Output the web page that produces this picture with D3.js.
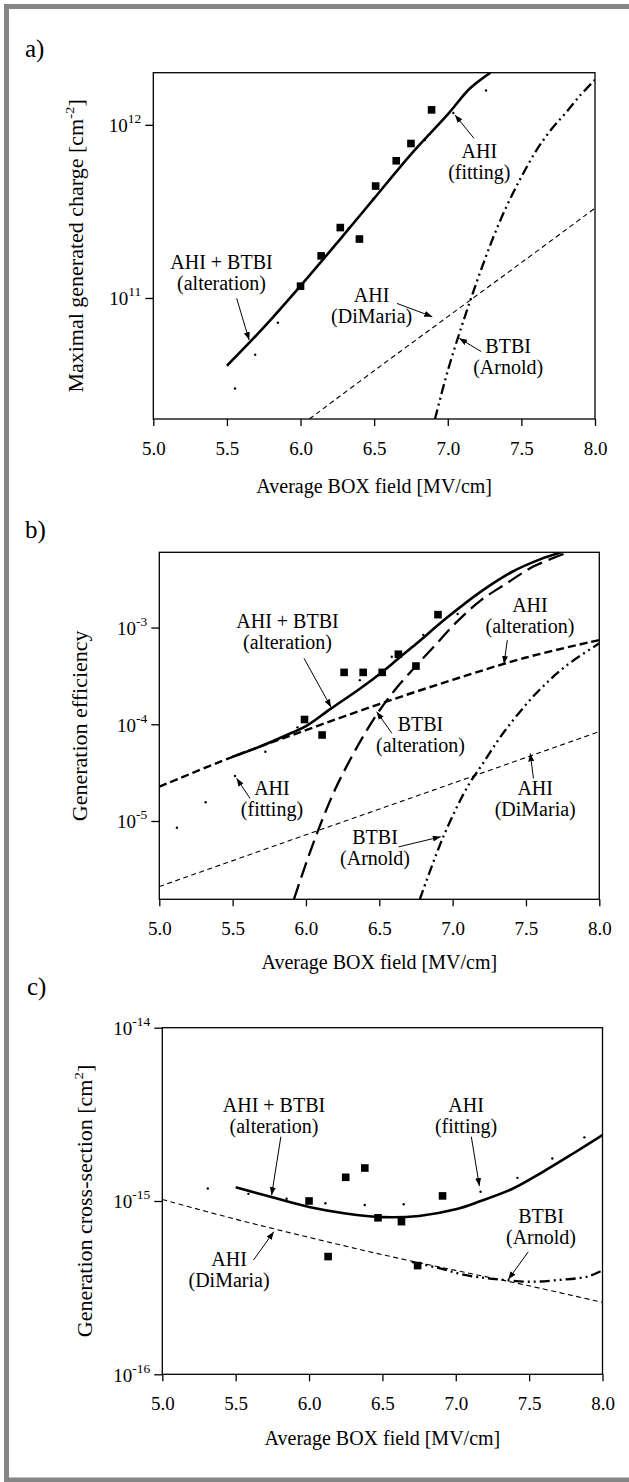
<!DOCTYPE html>
<html>
<head>
<meta charset="utf-8">
<script src="https://cdn.jsdelivr.net/npm/d3@7"></script>
<style>
  body { margin: 0; background: #fff; }
  svg, svg text { font-family: "Liberation Serif", "Times New Roman", Times, "DejaVu Serif", serif; }
</style>
</head>
<body>
<div id="graf"></div>
<script>
// I. Datos
const xTicks = [5.0, 5.5, 6.0, 6.5, 7.0, 7.5, 8.0]

// a) carga máxima generada [cm^-2]
const aTicksY = [1e11, 1e12]
const aSquareX = [6.00, 6.14, 6.27, 6.40, 6.51, 6.65, 6.75, 6.89]
const aSquareY = [1.17e11, 1.75e11, 2.55e11, 2.19e11, 4.43e11, 6.2e11, 7.8e11, 1.22e12]
const aAltX = [5.5, 5.75, 6.0, 6.25, 6.5, 6.75, 7.0, 7.15, 7.29]
const aAltY = [4.06e10, 6.76e10, 1.175e11, 2.09e11, 3.76e11, 6.76e11, 1.15e12, 1.62e12, 2.0e12]
const aFitX = [5.555, 5.692, 5.846, 6.327, 6.494, 6.845, 7.038, 7.26]
const aFitY = [3.0e10, 4.7e10, 7.2e10, 2.53e11, 3.73e11, 8.17e11, 1.17e12, 1.58e12]
const aDimX = [6.06, 6.5, 7.0, 7.5, 8.0]
const aDimY = [2.0e10, 3.8e10, 7.8e10, 1.6e11, 3.3e11]
const aArnX = [6.913, 7.0, 7.1, 7.2, 7.3, 7.4, 7.5, 7.6, 7.7, 7.8, 7.9, 8.0]
const aArnY = [2.0e10, 3.8e10, 7.1e10, 1.26e11, 2.14e11, 3.39e11, 5.0e11, 7.08e11, 9.33e11, 1.17e12, 1.48e12, 1.82e12]

// b) eficiencia de generación
const bTicksY = [1e-5, 1e-4, 1e-3]
const bSquareX = [5.99, 6.11, 6.26, 6.39, 6.52, 6.63, 6.75, 6.90]
const bSquareY = [1.12e-4, 7.75e-5, 3.44e-4, 3.44e-4, 3.44e-4, 5.3e-4, 4.0e-4, 1.36e-3]
const bAltX = [5.5, 5.7, 5.9, 6.0, 6.17, 6.37, 6.52, 6.63, 6.75, 6.96, 7.19, 7.41, 7.6, 7.74]
const bAltY = [4.61e-5, 6.0e-5, 8.13e-5, 9.55e-5, 1.45e-4, 2.34e-4, 3.47e-4, 4.79e-4, 6.76e-4, 1.26e-3, 2.34e-3, 3.8e-3, 5.1e-3, 6.0e-3]
const bAhiAltX = [5.0, 5.5, 6.0, 6.5, 7.0, 7.5, 8.0]
const bAhiAltY = [2.26e-5, 4.61e-5, 8.71e-5, 1.62e-4, 2.88e-4, 4.9e-4, 7.43e-4]
const bBtbiAltX = [5.918, 6.0, 6.1, 6.2, 6.3, 6.4, 6.5, 6.62, 6.75, 6.87, 7.03, 7.19, 7.37, 7.55, 7.77]
const bBtbiAltY = [1.55e-6, 3.63e-6, 9.33e-6, 2.14e-5, 4.27e-5, 7.94e-5, 1.38e-4, 2.4e-4, 4.0e-4, 6.3e-4, 1.15e-3, 1.9e-3, 2.88e-3, 4.27e-3, 5.86e-3]
const bFitX = [5.12, 5.316, 5.516, 5.723, 5.942, 6.367, 6.585, 6.80, 7.034]
const bFitY = [8.51e-6, 1.56e-5, 2.92e-5, 5.2e-5, 9.29e-5, 2.86e-4, 4.99e-4, 8.38e-4, 1.38e-3]
const bDimX = [5.0, 6.0, 7.0, 8.0]
const bDimY = [2.1e-6, 7.2e-6, 2.45e-5, 8.4e-5]
const bArnX = [6.776, 6.94, 7.1, 7.2, 7.35, 7.57, 7.77, 8.0]
const bArnY = [1.55e-6, 7.08e-6, 2.24e-5, 3.8e-5, 8.32e-5, 2.09e-4, 3.98e-4, 6.87e-4]

// c) sección eficaz de generación [cm^2]
const cTicksY = [1e-16, 1e-15, 1e-14]
const cSquareX = [6.00, 6.13, 6.25, 6.38, 6.47, 6.63, 6.74, 6.91]
const cSquareY = [1.0e-15, 4.78e-16, 1.37e-15, 1.55e-15, 8.0e-16, 7.6e-16, 4.24e-16, 1.07e-15]
const cAltX = [5.5, 5.75, 6.0, 6.25, 6.5, 6.75, 7.0, 7.17, 7.39, 7.58, 7.8, 8.0]
const cAltY = [1.2e-15, 1.05e-15, 9.23e-16, 8.47e-16, 8.07e-16, 8.2e-16, 8.95e-16, 1.0e-15, 1.18e-15, 1.45e-15, 1.88e-15, 2.4e-15]
const cFitX = [5.31, 5.587, 5.847, 6.112, 6.38, 6.645, 7.169, 7.42, 7.658, 7.877]
const cFitY = [1.18e-15, 1.1e-15, 1.03e-15, 9.7e-16, 9.48e-16, 9.57e-16, 1.13e-15, 1.36e-15, 1.76e-15, 2.33e-15]
const cDimX = [5.0, 5.5, 6.0, 6.5, 7.0, 7.5, 8.0]
const cDimY = [1.02e-15, 7.85e-16, 6.17e-16, 4.9e-16, 3.98e-16, 3.24e-16, 2.6e-16]
const cArnX = [6.7, 6.9, 7.05, 7.2, 7.32, 7.5, 7.7, 7.9, 8.0]
const cArnY = [4.45e-16, 4.07e-16, 3.76e-16, 3.59e-16, 3.51e-16, 3.42e-16, 3.5e-16, 3.67e-16, 3.98e-16]

// II. Estilos de línea
const estilos = {
  solido:  { width: 2.6, dash: null },
  dimaria: { width: 1.1, dash: '5,3.5' },
  arnold:  { width: 2.3, dash: '10,4,2,4,2,4' },
  ahiAlt:  { width: 2.4, dash: '8,4' },
  btbiAlt: { width: 2.3, dash: '16,7' }
}

const fuente = '"Liberation Serif", "Times New Roman", Times, "DejaVu Serif", serif'

// III. Configuración de paneles
paneles = [
  {
    name: 'a', label: 'a)', labelX: 25, labelY: 57,
    left: 153.3, right: 595, top: 72.7, bottom: 419,
    yDomain: [2e10, 2e12], yTicks: aTicksY,
    yTitle: ['Maximal generated charge [cm', '-2', ']'], yTitleX: 83,
    xTitleY: 493,
    lines: [
      { xs: aDimX, ys: aDimY, style: 'dimaria' },
      { xs: aArnX, ys: aArnY, style: 'arnold' },
      { xs: aAltX, ys: aAltY, style: 'solido' }
    ],
    squares: [aSquareX, aSquareY],
    dots: [aFitX, aFitY],
    notes: [
      { lines: ['AHI', '(fitting)'], at: [7.214, 6.41e11], from: [7.178, 8.36e11], to: [7.049, 1.14e12] },
      { lines: ['AHI + BTBI', '(alteration)'], at: [5.463, 1.47e11], from: [5.566, 9.96e10], to: [5.651, 5.71e10] },
      { lines: ['AHI', '(DiMaria)'], at: [6.483, 9.5e10], from: [6.655, 9.3e10], to: [6.895, 7.8e10] },
      { lines: ['BTBI', '(Arnold)'], at: [7.41, 4.79e10], from: [7.227, 4.9e10], to: [7.078, 5.85e10] }
    ]
  },
  {
    name: 'b', label: 'b)', labelX: 25, labelY: 538,
    left: 159.3, right: 599.3, top: 552.3, bottom: 899.3,
    yDomain: [1.55e-6, 6.0e-3], yTicks: bTicksY,
    yTitle: ['Generation efficiency', '', ''], yTitleX: 87,
    xTitleY: 969,
    lines: [
      { xs: bDimX, ys: bDimY, style: 'dimaria' },
      { xs: bArnX, ys: bArnY, style: 'arnold' },
      { xs: bAhiAltX, ys: bAhiAltY, style: 'ahiAlt' },
      { xs: bBtbiAltX, ys: bBtbiAltY, style: 'btbiAlt' },
      { xs: bAltX, ys: bAltY, style: 'solido' }
    ],
    squares: [bSquareX, bSquareY],
    dots: [bFitX, bFitY],
    notes: [
      { lines: ['AHI + BTBI', '(alteration)'], at: [5.874, 9.9e-4], from: [5.987, 4.8e-4], to: [6.171, 1.5e-4] },
      { lines: ['AHI', '(alteration)'], at: [7.527, 1.46e-3], from: [7.373, 7.4e-4], to: [7.35, 4.2e-4] },
      { lines: ['BTBI', '(alteration)'], at: [6.781, 8.6e-5], from: [6.585, 8.1e-5], to: [6.482, 1.35e-4] },
      { lines: ['AHI', '(fitting)'], at: [5.768, 1.85e-5], from: [5.619, 1.71e-5], to: [5.527, 2.76e-5] },
      { lines: ['AHI', '(DiMaria)'], at: [7.563, 1.85e-5], from: [7.551, 2.76e-5], to: [7.529, 5.0e-5] },
      { lines: ['BTBI', '(Arnold)'], at: [6.471, 5.77e-6], from: [6.632, 5.4e-6], to: [6.919, 6.87e-6] }
    ]
  },
  {
    name: 'c', label: 'c)', labelX: 27, labelY: 995,
    left: 162.3, right: 602.5, top: 1027.7, bottom: 1374.3,
    yDomain: [1e-16, 1e-14], yTicks: cTicksY,
    yTitle: ['Generation cross-section [cm', '2', ']'], yTitleX: 92,
    xTitleY: 1445,
    lines: [
      { xs: cDimX, ys: cDimY, style: 'dimaria' },
      { xs: cArnX, ys: cArnY, style: 'arnold' },
      { xs: cAltX, ys: cAltY, style: 'solido' }
    ],
    squares: [cSquareX, cSquareY],
    dots: [cFitX, cFitY],
    notes: [
      { lines: ['AHI + BTBI', '(alteration)'], at: [5.761, 3.27e-15], from: [5.808, 2.35e-15], to: [5.745, 1.08e-15] },
      { lines: ['AHI', '(fitting)'], at: [7.07, 3.27e-15], from: [7.106, 2.35e-15], to: [7.161, 1.22e-15] },
      { lines: ['AHI', '(DiMaria)'], at: [5.455, 4.22e-16], from: [5.622, 4.57e-16], to: [5.76, 6.65e-16] },
      { lines: ['BTBI', '(Arnold)'], at: [7.581, 7.43e-16], from: [7.494, 5.09e-16], to: [7.358, 3.53e-16] }
    ]
  }
]

// IV. Lienzo
svg = d3.select('#graf').append('svg')
        .attr('width', 629)
        .attr('height', 1482)
        .attr('font-family', fuente)

defs = svg.append('defs')
defs.append('marker')
    .attr('id', 'flecha')
    .attr('markerUnits', 'userSpaceOnUse')
    .attr('markerWidth', 8).attr('markerHeight', 6)
    .attr('refX', 8).attr('refY', 3)
    .attr('orient', 'auto')
  .append('path')
    .attr('d', 'M0,0 L8,3 L0,6 Z')
    .attr('fill', '#000')

// marco gris
svg.append('rect')
   .attr('x', 6.5).attr('y', 6.5)
   .attr('width', 640).attr('height', 1473.5)
   .attr('fill', 'none')
   .attr('stroke', '#858585')
   .attr('stroke-width', 5)

// V. Dibujo de cada panel
function render(p) {
  const x = d3.scaleLinear().domain([5, 8]).range([p.left, p.right])
  const y = d3.scaleLog().domain(p.yDomain).range([p.bottom, p.top])
  const g = svg.append('g').attr('font-family', fuente)

  defs.append('clipPath').attr('id', 'clip-' + p.name)
      .append('rect')
        .attr('x', p.left).attr('y', p.top)
        .attr('width', p.right - p.left).attr('height', p.bottom - p.top)

  // etiqueta del panel
  g.append('text')
   .attr('x', p.labelX).attr('y', p.labelY)
   .attr('font-size', 25)
   .text(p.label)

  // eje x
  const xAxisCall = d3.axisBottom(x)
                      .tickValues(xTicks)
                      .tickSize(7)
                      .tickFormat(d3.format('.1f'))
  g.append('g')
   .attr('transform', `translate(0, ${p.bottom})`)
   .call(xAxisCall)
   .call(s => s.select('.domain').remove())
   .call(s => s.selectAll('line').attr('stroke', '#000').attr('stroke-width', 1.3))
   .call(s => s.attr('font-family', fuente).attr('font-size', 19))
   .selectAll('text')
     .attr('fill', '#000')
     .attr('y', 36)
     .attr('dy', null)

  // eje y con potencias de 10
  const yAxisCall = d3.axisLeft(y)
                      .tickValues(p.yTicks)
                      .tickSize(8)
                      .tickPadding(4)
                      .tickFormat(() => '')
  const yAxisGroup = g.append('g')
   .attr('transform', `translate(${p.left}, 0)`)
   .call(yAxisCall)
   .call(s => s.select('.domain').remove())
   .call(s => s.selectAll('line').attr('stroke', '#000').attr('stroke-width', 1.3))
   .call(s => s.attr('font-family', fuente).attr('font-size', 19))

  yAxisGroup.selectAll('.tick text')
    .attr('fill', '#000')
    .attr('dy', '0.36em')
    .each(function(d) {
      const t = d3.select(this)
      t.append('tspan').text('10')
      t.append('tspan')
       .attr('font-size', 13.5)
       .attr('dy', -9)
       .text(String(Math.round(Math.log10(d))))
    })

  // títulos de ejes
  g.append('text')
   .attr('x', (p.left + p.right) / 2)
   .attr('y', p.xTitleY)
   .attr('text-anchor', 'middle')
   .attr('font-size', 20)
   .text('Average BOX field [MV/cm]')

  // el escaneo está algo estirado en vertical: el título vertical es más largo
  const yt = g.append('text')
   .attr('transform', `translate(${p.yTitleX}, ${(p.top + p.bottom) / 2}) rotate(-90) scale(1.1, 1)`)
   .attr('text-anchor', 'middle')
   .attr('font-size', 20)
  yt.append('tspan').text(p.yTitle[0])
  if (p.yTitle[1]) {
    yt.append('tspan').attr('font-size', 13.5).attr('dy', -9).text(p.yTitle[1])
    yt.append('tspan').attr('dy', 9).text(p.yTitle[2])
  }

  // series
  const plot = g.append('g').attr('clip-path', `url(#clip-${p.name})`)
  const linea = d3.line()
                  .x(d => x(d[0]))
                  .y(d => y(d[1]))
                  .curve(d3.curveCatmullRom.alpha(0.5))

  p.lines.forEach(s => {
    const e = estilos[s.style]
    plot.append('path')
        .datum(d3.zip(s.xs, s.ys))
        .attr('d', linea)
        .attr('fill', 'none')
        .attr('stroke', '#000')
        .attr('stroke-width', e.width)
        .attr('stroke-dasharray', e.dash)
  })

  plot.selectAll('rect.cuadro')
      .data(d3.zip(p.squares[0], p.squares[1]))
      .enter()
      .append('rect')
        .attr('class', 'cuadro')
        .attr('x', d => x(d[0]) - 3.8)
        .attr('y', d => y(d[1]) - 3.8)
        .attr('width', 7.6)
        .attr('height', 7.6)
        .attr('fill', '#000')

  plot.selectAll('circle.punto')
      .data(d3.zip(p.dots[0], p.dots[1]))
      .enter()
      .append('circle')
        .attr('class', 'punto')
        .attr('cx', d => x(d[0]))
        .attr('cy', d => y(d[1]))
        .attr('r', 1.2)
        .attr('fill', '#000')

  // marco del gráfico
  g.append('rect')
   .attr('x', p.left).attr('y', p.top)
   .attr('width', p.right - p.left).attr('height', p.bottom - p.top)
   .attr('fill', 'none')
   .attr('stroke', '#000')
   .attr('stroke-width', 1.3)

  // anotaciones con flecha
  p.notes.forEach(n => {
    const t = g.append('text')
               .attr('text-anchor', 'middle')
               .attr('font-size', 20)
    n.lines.forEach((l, i) => {
      t.append('tspan')
       .attr('x', x(n.at[0]))
       .attr('y', y(n.at[1]) + i * 21)
       .text(l)
    })
    g.append('line')
     .attr('x1', x(n.from[0])).attr('y1', y(n.from[1]))
     .attr('x2', x(n.to[0])).attr('y2', y(n.to[1]))
     .attr('stroke', '#000')
     .attr('stroke-width', 1)
     .attr('marker-end', 'url(#flecha)')
  })
}

paneles.forEach(render)
</script>
</body>
</html>
